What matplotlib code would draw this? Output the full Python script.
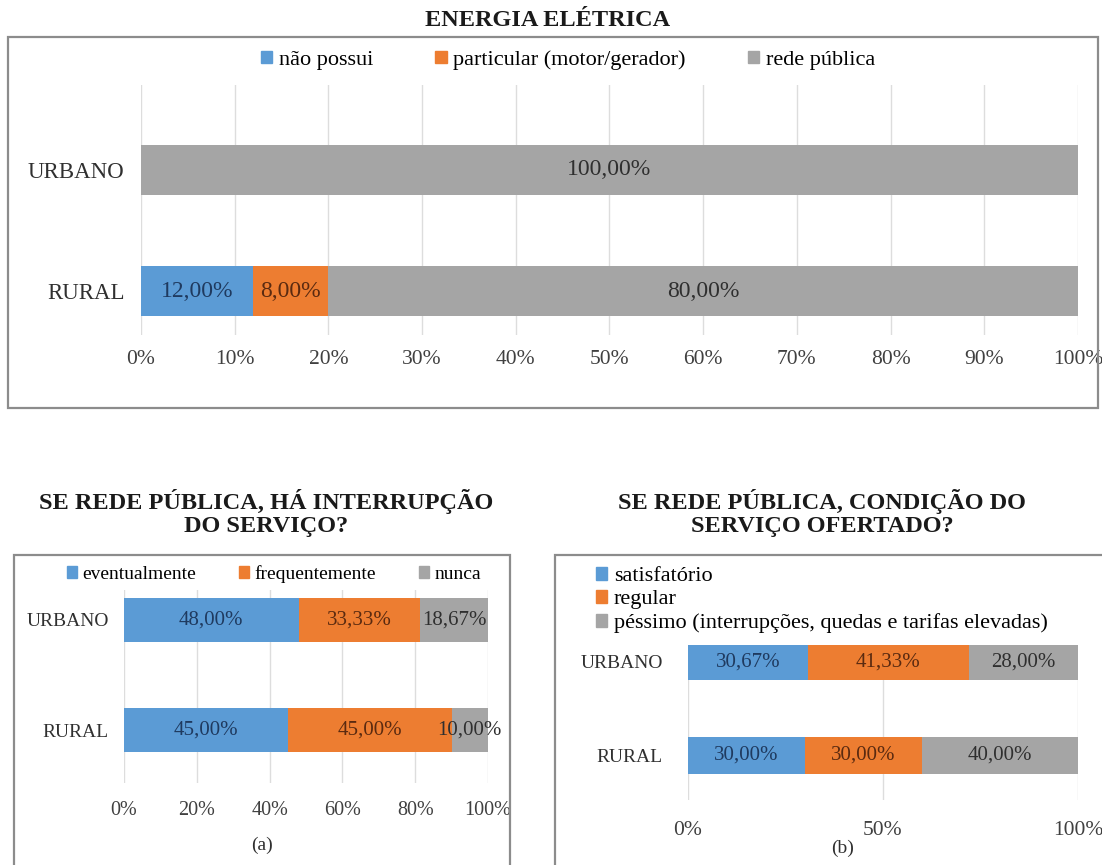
"""Energia elétrica: urbano x rural, three stacked 100% bar panels."""
import matplotlib
matplotlib.use("Agg")
import matplotlib.pyplot as plt
from matplotlib.patches import Rectangle, Patch

W, H = 1102, 865
plt.rcParams["font.family"] = ["Liberation Serif", "DejaVu Serif"]

categories = ["RURAL", "URBANO"]

# painel superior: energia elétrica
energia_series = ["não possui", "particular (motor/gerador)", "rede pública"]
energia_vals = [[12.00, 0.00], [8.00, 0.00], [80.00, 100.00]]
energia_ticks = [0, 10, 20, 30, 40, 50, 60, 70, 80, 90, 100]

# painel (a): interrupção do serviço
interrup_series = ["eventualmente", "frequentemente", "nunca"]
interrup_vals = [[45.00, 48.00], [45.00, 33.33], [10.00, 18.67]]
interrup_ticks = [0, 20, 40, 60, 80, 100]

# painel (b): condição do serviço
condicao_series = ["satisfatório", "regular",
                   "péssimo (interrupções, quedas e tarifas elevadas)"]
condicao_vals = [[30.00, 30.67], [30.00, 41.33], [40.00, 28.00]]
condicao_ticks = [0, 50, 100]

colors = ["#5B9BD5", "#ED7D31", "#A5A5A5"]
label_colors = ["#1F3A5F", "#5A2A10", "#2F2F2F"]


def fx(px):
    return px / W


def fy(py):
    return 1 - py / H


def make_axes(fig, left, right, top, bottom):
    return fig.add_axes([fx(left), fy(bottom), fx(right) - fx(left), fy(top) - fy(bottom)])


def frame(fig, x0, y0, x1, y1):
    fig.patches.append(Rectangle((fx(x0), fy(y1)), fx(x1) - fx(x0), fy(y0) - fy(y1),
                                 transform=fig.transFigure, fill=False,
                                 edgecolor="#8C8C8C", linewidth=1.6, zorder=0))


def stacked(ax, vals, ticks, ylim, height, fs_cat, fs_lab, fs_tick, ypad, xpad):
    left = [0.0] * len(categories)
    for i, series in enumerate(vals):
        bars = ax.barh(range(len(categories)), series, left=left, height=height,
                       color=colors[i], zorder=2)
        for b, v in zip(bars, series):
            if v > 0:
                ax.text(b.get_x() + b.get_width() / 2, b.get_y() + b.get_height() / 2,
                        f"{v:.2f}%".replace(".", ","), ha="center", va="center",
                        fontsize=fs_lab, color=label_colors[i], zorder=3)
        left = [l + v for l, v in zip(left, series)]
    ax.set_xlim(0, 100)
    ax.set_ylim(*ylim)
    ax.set_xticks(ticks)
    ax.set_xticklabels([f"{t}%" for t in ticks], fontsize=fs_tick, color="#404040")
    ax.set_yticks(range(len(categories)))
    ax.set_yticklabels(categories, fontsize=fs_cat, color="#303030")
    ax.tick_params(axis="x", length=0, pad=ypad)
    ax.tick_params(axis="y", length=0, pad=xpad)
    ax.grid(axis="x", color="#DDDDDD", linewidth=1, zorder=0)
    for s in ax.spines.values():
        s.set_visible(False)
    ax.set_facecolor("none")


fig = plt.figure(figsize=(W / 100, H / 100), dpi=100)

# ---- painel superior
frame(fig, 8, 37, 1098, 408)
fig.text(fx(548), fy(21), "ENERGIA ELÉTRICA", ha="center", va="center",
         fontsize=17.5, fontweight="bold", color="#1A1A1A")
ax1 = make_axes(fig, 141, 1078, 85, 335)
stacked(ax1, energia_vals, energia_ticks, (-0.36, 1.70), 0.41, 16.5, 17, 15.5, 11, 12)
ax1.legend([Patch(color=c) for c in colors], energia_series, loc="center",
           bbox_to_anchor=(fx(568), fy(60)), bbox_transform=fig.transFigure,
           ncol=3, frameon=False, fontsize=16, handlelength=0.5, handleheight=0.5,
           handletextpad=0.3, columnspacing=2.8)

# ---- painel (a)
frame(fig, 14, 555, 510, 872)
fig.text(fx(266), fy(513), "SE REDE PÚBLICA, HÁ INTERRUPÇÃO\nDO SERVIÇO?", ha="center",
         va="center", fontsize=17.5, fontweight="bold", color="#1A1A1A", linespacing=1.08)
ax2 = make_axes(fig, 124, 488, 590, 783)
stacked(ax2, interrup_vals, interrup_ticks, (-0.48, 1.27), 0.4, 14, 15, 14.5, 13, 11)
ax2.legend([Patch(color=c) for c in colors], interrup_series, loc="center",
           bbox_to_anchor=(fx(274), fy(574)), bbox_transform=fig.transFigure,
           ncol=3, frameon=False, fontsize=14, handlelength=0.5, handleheight=0.5,
           handletextpad=0.3, columnspacing=2.2)
fig.text(fx(262), fy(845), "(a)", ha="center", va="center", fontsize=14, color="#303030")

# ---- painel (b)
frame(fig, 555, 555, 1108, 872)
fig.text(fx(822), fy(513), "SE REDE PÚBLICA, CONDIÇÃO DO\nSERVIÇO OFERTADO?", ha="center",
         va="center", fontsize=17.5, fontweight="bold", color="#1A1A1A", linespacing=1.08)
ax3 = make_axes(fig, 688, 1078, 645, 800)
stacked(ax3, condicao_vals, condicao_ticks, (-0.48, 1.18), 0.4, 14, 15, 15.5, 15, 18)
ax3.legend([Patch(color=c) for c in colors], condicao_series, loc="upper left",
           bbox_to_anchor=(fx(596), fy(567)), bbox_transform=fig.transFigure,
           ncol=1, frameon=False, fontsize=16, handlelength=0.5, handleheight=0.5,
           handletextpad=0.3, labelspacing=0.18, borderaxespad=0, borderpad=0)
fig.text(fx(843), fy(848), "(b)", ha="center", va="center", fontsize=14, color="#303030")

fig.savefig("out.png", dpi=100)
